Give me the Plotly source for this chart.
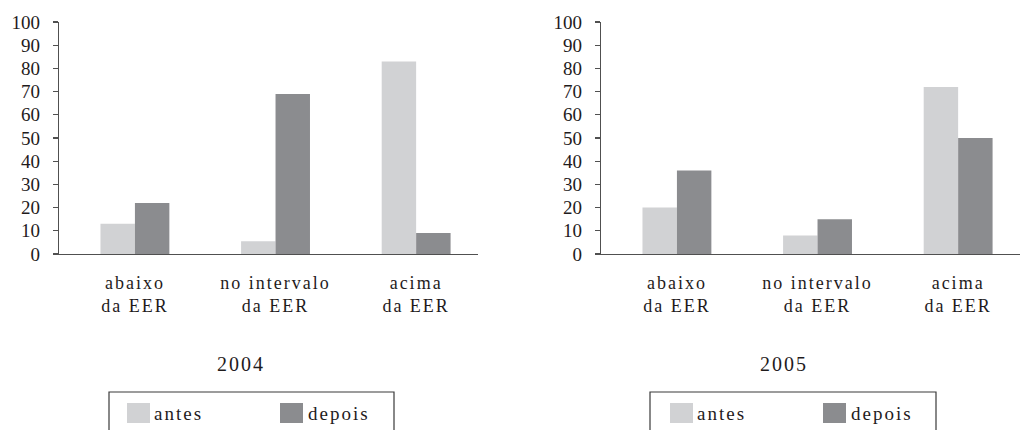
import plotly.graph_objects as go

# ---- data ----
categories = ["abaixo<br>da EER", "no intervalo<br>da EER", "acima<br>da EER"]
series_names = ["antes", "depois"]
antes_2004 = [13, 5.5, 83]
depois_2004 = [22, 69, 9]
antes_2005 = [20, 8, 72]
depois_2005 = [36, 15, 50]
years = ["2004", "2005"]
y_ticks = [0, 10, 20, 30, 40, 50, 60, 70, 80, 90, 100]

# ---- style ----
W, H = 1024, 430
colors = ["#d1d2d4", "#8b8c8f"]
FONT = "Liberation Serif"
TXT = "#1f1b1c"
AX = "#505050"

def px(x):
    return x / W

def py(y):
    return 1 - y / H

fig = go.Figure()
cat_idx = list(range(len(categories)))
data = [(antes_2004, depois_2004), (antes_2005, depois_2005)]
for k, (a, d) in enumerate(data):
    xa = "x" if k == 0 else "x2"
    ya = "y" if k == 0 else "y2"
    for name, vals, c in zip(series_names, (a, d), colors):
        fig.add_trace(go.Bar(x=cat_idx, y=vals, name=name, marker=dict(color=c, line=dict(width=0)),
                             xaxis=xa, yaxis=ya, showlegend=False))

xdomains = [[px(59), px(478)], [px(601), px(1020)]]
ydomain = [py(254), py(22)]

common_x = dict(range=[-0.54, 2.44], tickvals=cat_idx, ticktext=categories, showline=True,
                linecolor=AX, linewidth=1.3, ticks="", showgrid=False, zeroline=False,
                automargin=False,
                tickfont=dict(family=FONT, size=18, color=TXT), ticklabelstandoff=12)
common_y = dict(range=[0, 100], tickvals=y_ticks, showline=True, linecolor=AX, linewidth=1.3,
                ticks="outside", ticklen=5, tickcolor=AX, tickwidth=1.2, showgrid=False,
                zeroline=False, automargin=False, tickfont=dict(family=FONT, size=19, color=TXT),
                ticklabelstandoff=9, domain=ydomain)

fig.update_layout(
    width=W, height=H, margin=dict(l=0, r=0, t=0, b=0, autoexpand=False),
    plot_bgcolor="white", paper_bgcolor="white", hovermode=False,
    barmode="group", bargap=0.51, bargroupgap=0,
    xaxis=dict(domain=xdomains[0], anchor="y", **common_x),
    xaxis2=dict(domain=xdomains[1], anchor="y2", **common_x),
    yaxis=dict(anchor="x", **common_y),
    yaxis2=dict(anchor="x2", **common_y),
)

# year captions
year_x = [241, 784]
for yr, xc in zip(years, year_x):
    fig.add_annotation(text=yr, x=px(xc), y=py(364), xref="paper", yref="paper",
                       showarrow=False, xanchor="center", yanchor="middle",
                       font=dict(family=FONT, size=20, color=TXT))

# legends (box + swatches + labels)
boxes = [(109, 394), (650, 936)]
sw_x = [[127, 280], [670, 823]]
txt_x = [[157, 312], [700, 855]]
for b, sws, tx in zip(boxes, sw_x, txt_x):
    fig.add_shape(type="rect", xref="paper", yref="paper", x0=px(b[0]), x1=px(b[1]),
                  y0=py(392), y1=py(445), line=dict(color="#3a3a3a", width=1.2), fillcolor="white",
                  layer="below")
    for s, t, name, c in zip(sws, tx, series_names, colors):
        fig.add_shape(type="rect", xref="paper", yref="paper", x0=px(s), x1=px(s + 23),
                      y0=py(423), y1=py(403), line=dict(width=0), fillcolor=c)
        fig.add_annotation(text=name, x=px(t), y=py(413), xref="paper", yref="paper",
                           showarrow=False, xanchor="left", yanchor="middle",
                           font=dict(family=FONT, size=19, color=TXT))

js = """
document.body.style.margin = '0';
var gd = document.getElementById('{plot_id}');
function track(){
  gd.querySelectorAll('.xtick text, .x2tick text, .annotation-text').forEach(function(t){ t.setAttribute('letter-spacing','2px'); });
}
track();
gd.on('plotly_afterplot', track);
"""
fig.write_html("out.html", post_script=js, config={"displayModeBar": False, "staticPlot": True})
